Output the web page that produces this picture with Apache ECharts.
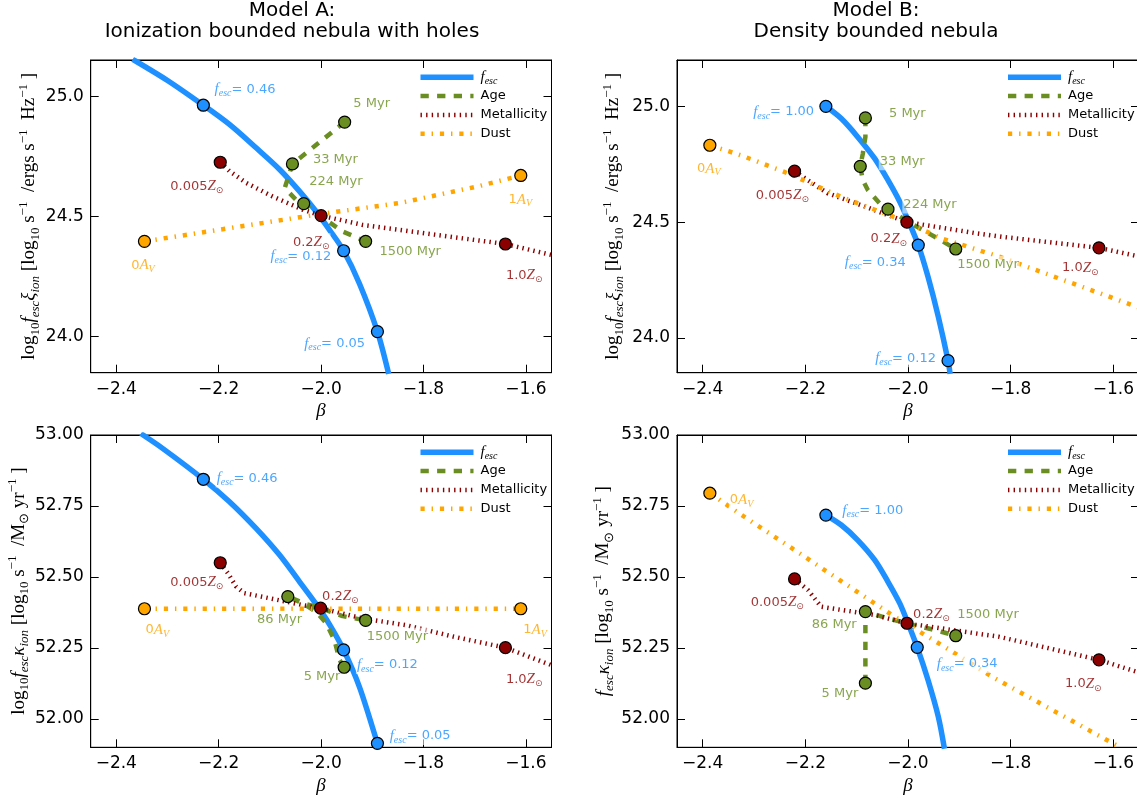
<!DOCTYPE html>
<html><head><meta charset="utf-8">
<script src="https://cdn.jsdelivr.net/npm/echarts@6/dist/echarts.min.js"></script>
<style>html,body{margin:0;padding:0;background:#fff}#c{width:1137px;height:800px}</style>
</head><body><div id="c"></div>
<script>
// ---------- tick labels / names ----------
const X_TICKS = [-2.4, -2.2, -2.0, -1.8, -1.6];
const Y_TICKS_XI = [24.0, 24.5, 25.0];
const Y_TICKS_KAPPA = [52.0, 52.25, 52.5, 52.75, 53.0];
const LEGEND_NAMES = ['fesc', 'Age', 'Metallicity', 'Dust'];
const TITLES = ['Model A:\nIonization bounded nebula with holes', 'Model B:\nDensity bounded nebula'];

// ---------- Model A, log10 fesc*xi_ion ----------
const A1_fescCurve = [[-2.368,25.153],[-2.300,25.065],[-2.230,24.962],[-2.179,24.882],[-2.127,24.785],[-2.081,24.695],[-2.042,24.604],[-2.010,24.521],[-1.984,24.445],[-1.956,24.357],[-1.925,24.220],[-1.890,24.021],[-1.868,23.845]];
const A1_fescPts = [[-2.230,24.962],[-1.956,24.357],[-1.890,24.021]];
const A1_age = [[-1.954,24.892],[-2.056,24.718],[-2.071,24.618],[-2.049,24.569],[-2.034,24.553],[-2.0,24.5],[-1.958,24.437],[-1.913,24.396]];
const A1_agePts = [[-1.954,24.892],[-2.056,24.718],[-2.034,24.553],[-1.913,24.396]];
const A1_met = [[-2.197,24.725],[-2.179,24.688],[-2.146,24.639],[-2.095,24.583],[-2.036,24.528],[-2.0,24.503],[-1.920,24.465],[-1.778,24.424],[-1.640,24.385],[-1.551,24.340]];
const A1_metPts = [[-2.197,24.725],[-2.0,24.503],[-1.640,24.385]];
const A1_dust = [[-2.345,24.396],[-2.0,24.51],[-1.845,24.556],[-1.693,24.625],[-1.610,24.670]];
const A1_dustPts = [[-2.345,24.396],[-1.610,24.670]];
const A1_fescLabels = [[-2.210,25.028,'0.46','l'],[-2.101,24.333,'0.12','l'],[-2.035,23.970,'0.05','l']];
const A1_ageLabels = [[-1.939,24.968,'5 Myr','l'],[-2.018,24.736,'33 Myr','l'],[-2.025,24.646,'224 Myr','l'],[-1.888,24.354,'1500 Myr','l']];
const A1_metLabels = [[-2.189,24.625,'0.005','r'],[-2.057,24.392,'0.2','l'],[-1.641,24.254,'1.0','l']];
const A1_dustLabels = [[-2.373,24.296,'0','l'],[-1.636,24.569,'1','l']];

// ---------- Model B, log10 fesc*xi_ion ----------
const B1_fescCurve = [[-2.160,25.000],[-2.130,24.947],[-2.098,24.868],[-2.065,24.775],[-2.039,24.681],[-2.016,24.588],[-2.0,24.509],[-1.980,24.401],[-1.961,24.264],[-1.941,24.092],[-1.922,23.902],[-1.918,23.845]];
const B1_fescPts = [[-2.160,25.000],[-1.980,24.401],[-1.922,23.902]];
const B1_age = [[-2.083,24.950],[-2.083,24.868],[-2.088,24.796],[-2.093,24.741],[-2.088,24.681],[-2.078,24.638],[-2.055,24.581],[-2.039,24.556],[-2.0,24.502],[-1.948,24.437],[-1.907,24.384]];
const B1_agePts = [[-2.083,24.950],[-2.093,24.741],[-2.039,24.556],[-1.907,24.384]];
const B1_met = [[-2.221,24.720],[-2.195,24.681],[-2.156,24.624],[-2.091,24.573],[-2.002,24.500],[-1.870,24.453],[-1.818,24.437],[-1.628,24.389],[-1.546,24.350]];
const B1_metPts = [[-2.221,24.720],[-2.002,24.500],[-1.628,24.389]];
const B1_dust = [[-2.386,24.832],[-2.326,24.789],[-2.241,24.717],[-2.130,24.609],[-2.020,24.516],[-1.935,24.430],[-1.821,24.350],[-1.546,24.128]];
const B1_dustPts = [[-2.386,24.832]];
const B1_fescLabels = [[-2.181,24.975,'1.00','r'],[-2.125,24.326,'0.34','l'],[-2.066,23.912,'0.12','l']];
const B1_ageLabels = [[-2.039,24.968,'5 Myr','l'],[-2.057,24.763,'33 Myr','l'],[-2.011,24.576,'224 Myr','l'],[-1.906,24.315,'1500 Myr','l']];
const B1_metLabels = [[-2.191,24.616,'0.005','r'],[-2.075,24.428,'0.2','l'],[-1.702,24.302,'1.0','l']];
const B1_dustLabels = [[-2.413,24.731,'0','l']];

// ---------- Model A, log10 fesc*kappa_ion ----------
const A2_fescCurve = [[-2.352,53.005],[-2.309,52.952],[-2.230,52.844],[-2.179,52.765],[-2.127,52.671],[-2.081,52.577],[-2.042,52.483],[-2.010,52.405],[-1.984,52.334],[-1.956,52.243],[-1.925,52.112],[-1.890,51.914],[-1.887,51.895]];
const A2_fescPts = [[-2.230,52.844],[-1.956,52.243],[-1.890,51.914]];
const A2_age = [[-1.955,52.182],[-1.964,52.208],[-1.974,52.278],[-1.990,52.337],[-2.010,52.378],[-2.036,52.407],[-2.065,52.431],[-2.030,52.405],[-2.0,52.390],[-1.958,52.362],[-1.913,52.347]];
const A2_agePts = [[-1.955,52.182],[-2.065,52.431],[-1.913,52.347]];
const A2_met = [[-2.197,52.550],[-2.182,52.513],[-2.166,52.466],[-2.150,52.443],[-2.101,52.425],[-2.036,52.401],[-2.001,52.390],[-1.919,52.354],[-1.834,52.330],[-1.742,52.290],[-1.640,52.251],[-1.551,52.190]];
const A2_metPts = [[-2.197,52.550],[-2.001,52.390],[-1.640,52.251]];
const A2_dust = [[-2.345,52.388],[-1.610,52.388]];
const A2_dustPts = [[-2.345,52.388],[-1.610,52.388]];
const A2_fescLabels = [[-2.206,52.847,'0.46','l'],[-1.932,52.190,'0.12','l'],[-1.868,51.940,'0.05','l']];
const A2_ageLabels = [[-2.127,52.349,'86 Myr','l'],[-1.913,52.289,'1500 Myr','l'],[-2.036,52.149,'5 Myr','l']];
const A2_metLabels = [[-2.189,52.481,'0.005','r'],[-2.0,52.431,'0.2','l'],[-1.641,52.140,'1.0','l']];
const A2_dustLabels = [[-2.345,52.313,'0','l'],[-1.607,52.313,'1','l']];

// ---------- Model B, fesc*kappa_ion ----------
const B2_fescCurve = [[-2.160,52.718],[-2.130,52.683],[-2.098,52.630],[-2.065,52.560],[-2.039,52.483],[-2.016,52.407],[-2.0,52.337],[-1.982,52.252],[-1.961,52.137],[-1.941,52.008],[-1.929,51.895]];
const B2_fescPts = [[-2.160,52.718],[-1.982,52.252]];
const B2_age = [[-2.083,52.126],[-2.083,52.325],[-2.083,52.378],[-2.039,52.354],[-1.974,52.325],[-1.935,52.307],[-1.907,52.293]];
const B2_agePts = [[-2.083,52.126],[-2.083,52.378],[-1.907,52.293]];
const B2_met = [[-2.221,52.493],[-2.195,52.454],[-2.169,52.395],[-2.130,52.384],[-2.065,52.366],[-2.002,52.337],[-1.902,52.310],[-1.824,52.290],[-1.628,52.208],[-1.546,52.161]];
const B2_metPts = [[-2.221,52.493],[-2.002,52.337],[-1.628,52.208]];
const B2_dust = [[-2.386,52.795],[-2.319,52.712],[-2.221,52.595],[-2.124,52.478],[-2.026,52.360],[-1.929,52.254],[-1.831,52.143],[-1.595,51.908],[-1.588,51.895]];
const B2_dustPts = [[-2.386,52.795]];
const B2_fescLabels = [[-2.130,52.733,'1.00','l'],[-1.946,52.193,'0.34','l']];
const B2_ageLabels = [[-2.098,52.333,'86 Myr','r'],[-1.906,52.369,'1500 Myr','l'],[-2.095,52.090,'5 Myr','r']];
const B2_metLabels = [[-2.201,52.410,'0.005','r'],[-1.992,52.369,'0.2','l'],[-1.696,52.123,'1.0','l']];
const B2_dustLabels = [[-2.349,52.771,'0','l']];

// ---------- styling ----------
const BLUE = '#1E90FF', GREEN = '#6B8E23', RED = '#8B0000', ORANGE = '#FFA500';
const SANS = 'DejaVu Sans', SERIF = 'Liberation Serif';
const STYLES = {
  fesc: {color: BLUE, width: 5.5, dash: 'solid', z: 2},
  age: {color: GREEN, width: 4.5, dash: [8.3, 8.3], z: 3},
  met: {color: RED, width: 4.5, dash: [1.4, 4.2], z: 4},
  dust: {color: ORANGE, width: 4.5, dash: [4.2, 6.9, 1.4, 6.9], z: 5}
};
const YNAME_XI = '{r|log}{s|10}{i|f}{si|esc}{i|ξ}{si|ion}{r| [log}{s|10}{r| s}{p|−1}{r|  /ergs s}{p|−1}{r|  Hz}{p|−1}{r| ]}';
const YNAME_KA = '{r|log}{s|10}{i|f}{si|esc}{i|κ}{si|ion}{r| [log}{s|10}{r| s}{p|−1}{r|  /M}{s|⊙}{r| yr}{p|−1}{r| ]}';
const YNAME_KB = '{i|f}{si|esc}{i|κ}{si|ion}{r| [log}{s|10}{r| s}{p|−1}{r|  /M}{s|⊙}{r| yr}{p|−1}{r| ]}';

const PANELS = [
  {grid: {left: 90.7, top: 60, width: 460.8, height: 312.7}, ymin: 23.85, ymax: 25.15, yTicks: Y_TICKS_XI, yDec: 1, yName: YNAME_XI, yGap: 46, title: TITLES[0], titleX: 292,
   d: {fesc: A1_fescCurve, fescP: A1_fescPts, age: A1_age, ageP: A1_agePts, met: A1_met, metP: A1_metPts, dust: A1_dust, dustP: A1_dustPts},
   L: {fesc: A1_fescLabels, age: A1_ageLabels, met: A1_metLabels, dust: A1_dustLabels}},
  {grid: {left: 677, top: 60, width: 462, height: 312.7}, ymin: 23.85, ymax: 25.2, yTicks: Y_TICKS_XI, yDec: 1, yName: YNAME_XI, yGap: 51, title: TITLES[1], titleX: 876,
   d: {fesc: B1_fescCurve, fescP: B1_fescPts, age: B1_age, ageP: B1_agePts, met: B1_met, metP: B1_metPts, dust: B1_dust, dustP: B1_dustPts},
   L: {fesc: B1_fescLabels, age: B1_ageLabels, met: B1_metLabels, dust: B1_dustLabels}},
  {grid: {left: 90.7, top: 435, width: 460.8, height: 312.3}, ymin: 51.9, ymax: 53.0, yTicks: Y_TICKS_KAPPA, yDec: 2, yName: YNAME_KA, yGap: 56,
   d: {fesc: A2_fescCurve, fescP: A2_fescPts, age: A2_age, ageP: A2_agePts, met: A2_met, metP: A2_metPts, dust: A2_dust, dustP: A2_dustPts},
   L: {fesc: A2_fescLabels, age: A2_ageLabels, met: A2_metLabels, dust: A2_dustLabels}},
  {grid: {left: 677, top: 435, width: 462, height: 312.3}, ymin: 51.9, ymax: 53.0, yTicks: Y_TICKS_KAPPA, yDec: 2, yName: YNAME_KB, yGap: 61,
   d: {fesc: B2_fescCurve, fescP: B2_fescPts, age: B2_age, ageP: B2_agePts, met: B2_met, metP: B2_metPts, dust: B2_dust, dustP: B2_dustPts},
   L: {fesc: B2_fescLabels, age: B2_ageLabels, met: B2_metLabels, dust: B2_dustLabels}}
];

function labelRich(color) {
  return {
    n: {fontFamily: SANS, fontSize: 13, color: color, lineHeight: 18},
    i: {fontFamily: SERIF, fontStyle: 'italic', fontSize: 15, color: color, lineHeight: 18},
    sub: {fontFamily: SERIF, fontStyle: 'italic', fontSize: 10, color: color, lineHeight: 10, verticalAlign: 'bottom'},
    sn: {fontFamily: SANS, fontSize: 9, color: color, lineHeight: 10, verticalAlign: 'bottom'}
  };
}
function labelText(kind, v) {
  if (kind === 'fesc') return '{i|f}{sub|esc}{n|= ' + v + '}';
  if (kind === 'met') return '{n|' + v + '}{i|Z}{sn|⊙}';
  if (kind === 'dust') return '{n|' + v + '}{i|A}{sub|V}';
  return '{n|' + v + '}';
}
const POS = {l: 'right', r: 'left', c: 'inside'};

const grids = [], xAxes = [], yAxes = [], series = [], graphics = [];
const fmtX = v => (v < 0 ? '−' : '') + Math.abs(v).toFixed(1);
const YRICH = {
  r: {fontFamily: SERIF, fontSize: 19, color: '#000', lineHeight: 25},
  i: {fontFamily: SERIF, fontStyle: 'italic', fontSize: 19, color: '#000', lineHeight: 25},
  s: {fontFamily: SERIF, fontSize: 13, color: '#000', lineHeight: 13, verticalAlign: 'bottom'},
  si: {fontFamily: SERIF, fontStyle: 'italic', fontSize: 13, color: '#000', lineHeight: 13, verticalAlign: 'bottom'},
  p: {fontFamily: SERIF, fontSize: 13, color: '#000', lineHeight: 13, verticalAlign: 'top'}
};

PANELS.forEach((P, pi) => {
  grids.push(Object.assign({show: true, borderColor: '#000', borderWidth: 1, backgroundColor: 'transparent', outerBoundsMode: 'none', containLabel: false}, P.grid));
  const tickStyle = {inside: true, length: 8, lineStyle: {color: '#000', width: 1}};
  xAxes.push({type: 'value', gridIndex: pi, min: -2.45, max: -1.55, position: 'bottom',
    axisLine: {show: true, onZero: false, lineStyle: {color: '#000', width: 1}},
    axisTick: Object.assign({customValues: X_TICKS}, tickStyle),
    axisLabel: {customValues: X_TICKS, formatter: fmtX, fontFamily: SANS, fontSize: 17, color: '#000', margin: 8},
    splitLine: {show: false},
    name: 'β', nameLocation: 'middle', nameGap: 29,
    nameTextStyle: {fontFamily: SERIF, fontStyle: 'italic', fontSize: 19, color: '#000'}});
  xAxes.push({type: 'value', gridIndex: pi, min: -2.45, max: -1.55, position: 'top',
    axisLine: {show: true, onZero: false, lineStyle: {color: '#000', width: 1}},
    axisTick: Object.assign({customValues: X_TICKS}, tickStyle),
    axisLabel: {show: false}, splitLine: {show: false}});
  yAxes.push({type: 'value', gridIndex: pi, min: P.ymin, max: P.ymax, position: 'left',
    axisLine: {show: true, onZero: false, lineStyle: {color: '#000', width: 1}},
    axisTick: Object.assign({customValues: P.yTicks}, tickStyle),
    axisLabel: {customValues: P.yTicks, formatter: v => v.toFixed(P.yDec), fontFamily: SANS, fontSize: 17, color: '#000', margin: 7},
    splitLine: {show: false},
    name: P.yName, nameLocation: 'middle', nameGap: P.yGap, nameRotate: 90,
    nameTextStyle: {fontFamily: SERIF, fontSize: 19, color: '#000', rich: YRICH}});
  yAxes.push({type: 'value', gridIndex: pi, min: P.ymin, max: P.ymax, position: 'right',
    axisLine: {show: true, onZero: false, lineStyle: {color: '#000', width: 1}},
    axisTick: Object.assign({customValues: P.yTicks}, tickStyle),
    axisLabel: {show: false}, splitLine: {show: false}});

  const xi = 2 * pi, yi = 2 * pi;
  const kinds = ['fesc', 'age', 'met', 'dust'];
  kinds.forEach((k, ki) => {
    const S = STYLES[k];
    series.push({type: 'line', name: LEGEND_NAMES[ki], xAxisIndex: xi, yAxisIndex: yi, data: P.d[k],
      symbol: 'none', showSymbol: false, smooth: k === 'fesc' ? 0.3 : false, clip: true, silent: true, z: S.z,
      lineStyle: {color: S.color, width: S.width, type: S.dash, cap: 'butt', join: 'round'}});
  });
  kinds.forEach(k => {
    const S = STYLES[k];
    series.push({type: 'scatter', xAxisIndex: xi, yAxisIndex: yi, silent: true, z: 7,
      data: P.L[k].map(a => ({value: [a[0], a[1]], label: {show: true, position: POS[a[3]], distance: 0,
        formatter: labelText(k, a[2]), rich: labelRich(S.color), color: S.color,
        backgroundColor: 'rgba(255,255,255,0.7)', padding: [0, 1]}})),
      symbolSize: 0.01, itemStyle: {color: 'rgba(0,0,0,0)'}});
  });
  kinds.forEach(k => {
    const S = STYLES[k];
    series.push({type: 'scatter', xAxisIndex: xi, yAxisIndex: yi, data: P.d[k + 'P'], silent: true, z: 9,
      symbol: 'circle', symbolSize: 12, clip: true,
      itemStyle: {color: S.color, borderColor: '#000', borderWidth: 1.2, opacity: 1}});
  });

  // legend (box-free, like the reference)
  const right = P.grid.left + P.grid.width;
  const x0 = right - 131, y0 = P.grid.top + 17.3, dy = 18.8;
  kinds.forEach((k, ki) => {
    const S = STYLES[k], y = y0 + ki * dy;
    graphics.push({type: 'line', silent: true, z: 100, shape: {x1: x0, y1: y, x2: x0 + 53, y2: y},
      style: {stroke: S.color, lineWidth: S.width, lineDash: S.dash === 'solid' ? null : S.dash, lineCap: 'butt'}});
    const isF = k === 'fesc';
    graphics.push({type: 'text', silent: true, z: 100, x: x0 + 60, y: y,
      style: {text: isF ? '{i|f}{s|esc}' : LEGEND_NAMES[ki], fill: '#000', font: '13px "DejaVu Sans"',
        verticalAlign: 'middle', textVerticalAlign: 'middle', align: 'left', textAlign: 'left',
        rich: isF ? {i: {fill: '#000', fontFamily: SERIF, fontStyle: 'italic', fontSize: 15, lineHeight: 18},
                     s: {fill: '#000', fontFamily: SERIF, fontStyle: 'italic', fontSize: 10, lineHeight: 10, verticalAlign: 'bottom'}} : undefined}});
  });
  if (P.title) {
    graphics.push({type: 'text', silent: true, z: 100, x: P.titleX, y: 0,
      style: {text: P.title, fill: '#000', font: '20px "DejaVu Sans"', lineHeight: 21,
        align: 'center', textAlign: 'center', verticalAlign: 'top', textVerticalAlign: 'top'}});
  }
});

const chart = echarts.init(document.getElementById('c'), null, {renderer: 'canvas'});
chart.setOption({
  animation: false,
  backgroundColor: '#fff',
  grid: grids, xAxis: xAxes, yAxis: yAxes, series: series, graphic: graphics
});
</script></body></html>
